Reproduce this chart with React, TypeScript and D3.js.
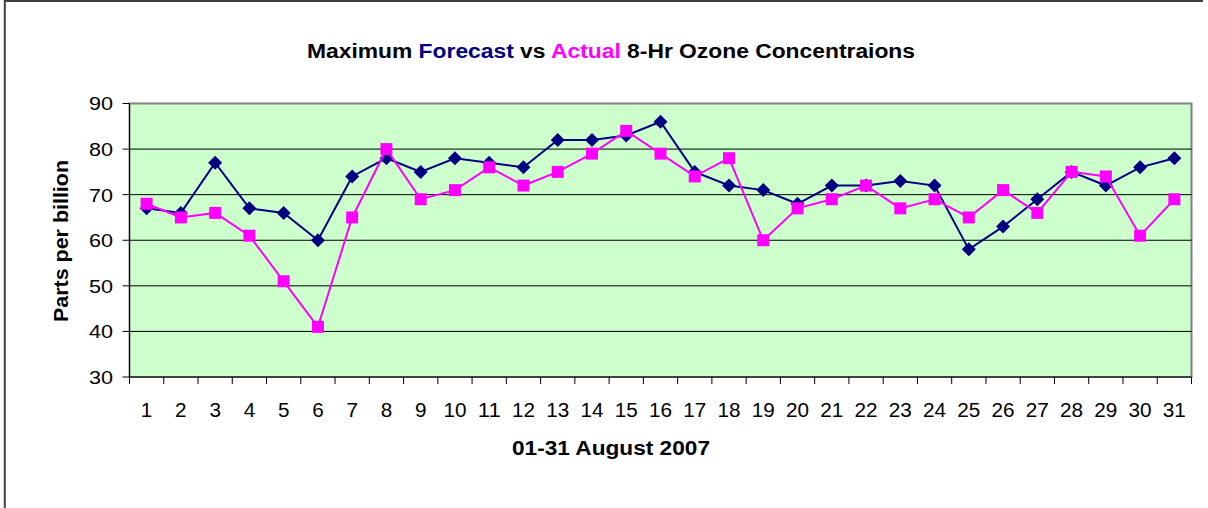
import React from 'react';
import * as d3 from 'd3';

const days = d3.range(1, 32).map(String);
const forecast = [67, 66, 77, 67, 66, 60, 74, 78, 75, 78, 77, 76, 82, 82, 83, 86, 75, 72, 71, 68, 72, 72, 73, 72, 58, 63, 69, 75, 72, 76, 78];
const actual = [68, 65, 66, 61, 51, 41, 65, 80, 69, 71, 76, 72, 75, 79, 84, 79, 74, 78, 60, 67, 69, 72, 67, 69, 65, 71, 66, 75, 74, 61, 69];
const yTicks = [30, 40, 50, 60, 70, 80, 90];

const W = 1208;
const H = 508;
const plot = { left: 129.5, right: 1191.5, top: 103.5, bottom: 377 };
const font = "'Liberation Sans', Arial, sans-serif";

const App: React.FC = () => {
  const x = d3.scaleBand().domain(days).range([plot.left, plot.right]);
  const y = d3.scaleLinear().domain([30, 90]).range([plot.bottom, plot.top]);
  const cx = (i: number) => (x(days[i]) || 0) + x.bandwidth() / 2;

  const line = d3.line<number>()
    .x((_, i) => cx(i))
    .y(d => y(d));

  const diamond = (px: number, py: number, r: number) =>
    `M${px},${py - r}L${px + r},${py}L${px},${py + r}L${px - r},${py}Z`;

  // ticks sit on the band boundaries
  const xTickPos = days.map(d => x(d) || 0).concat([plot.right]);

  return (
    <svg width={W} height={H} style={{ display: 'block', position: 'absolute', left: 0, top: 0 }}>
      <rect x={0} y={0} width={W} height={H} fill="#fff" />
      <line x1={4.8} x2={4.8} y1={0} y2={H} stroke="#404040" strokeWidth={2} />
      <line x1={4} x2={1203} y1={1} y2={1} stroke="#404040" strokeWidth={2} />

      <text x={611} y={57.5} textAnchor="middle" fontFamily={font} fontWeight="bold" fontSize={20}
        textLength={608} lengthAdjust="spacingAndGlyphs">
        Maximum <tspan fill="#000080">Forecast</tspan> vs <tspan fill="#ff00ff">Actual</tspan> 8-Hr Ozone Concentraions
      </text>

      <rect x={plot.left} y={plot.top} width={plot.right - plot.left} height={plot.bottom - plot.top}
        fill="#ccffcc" stroke="#808080" strokeWidth={2} />

      {yTicks.filter(t => t > 30 && t < 90).map(t => (
        <line key={t} x1={plot.left} x2={plot.right} y1={y(t)} y2={y(t)} stroke="#000" strokeWidth={1} />
      ))}

      {/* y axis */}
      <line x1={plot.left} x2={plot.left} y1={plot.top} y2={plot.bottom} stroke="#000" strokeWidth={1} />
      {yTicks.map(t => (
        <g key={t}>
          <line x1={plot.left - 7} x2={plot.left} y1={y(t)} y2={y(t)} stroke="#000" />
          <text x={113} y={y(t)} dy="0.36em" textAnchor="end" fontFamily={font} fontSize={19}
            textLength={24} lengthAdjust="spacingAndGlyphs">{t}</text>
        </g>
      ))}

      {/* x axis */}
      <line x1={plot.left} x2={plot.right} y1={plot.bottom} y2={plot.bottom} stroke="#000" strokeWidth={1} />
      {xTickPos.map((p, i) => (
        <line key={i} x1={p} x2={p} y1={plot.bottom} y2={plot.bottom + 7} stroke="#000" />
      ))}
      {days.map((d, i) => (
        <text key={d} x={cx(i)} y={410} dy="0.36em" textAnchor="middle" fontFamily={font} fontSize={20}
          textLength={d.length * 11.5} lengthAdjust="spacingAndGlyphs">{d}</text>
      ))}

      <text x={611} y={448} dy="0.36em" textAnchor="middle" fontFamily={font} fontWeight="bold" fontSize={20}
        textLength={198} lengthAdjust="spacingAndGlyphs">
        01-31 August 2007
      </text>
      <text transform="translate(61,241) rotate(-90)" dy="0.36em" textAnchor="middle" fontFamily={font}
        fontWeight="bold" fontSize={20} textLength={162} lengthAdjust="spacingAndGlyphs">
        Parts per billion
      </text>

      {/* series */}
      <path d={line(forecast) || ''} fill="none" stroke="#000080" strokeWidth={2} />
      {forecast.map((v, i) => (
        <path key={i} d={diamond(cx(i), y(v), 7)} fill="#000080" />
      ))}
      <path d={line(actual) || ''} fill="none" stroke="#ff00ff" strokeWidth={2} />
      {actual.map((v, i) => (
        <rect key={i} x={cx(i) - 6} y={y(v) - 6} width={12} height={12} fill="#ff00ff" />
      ))}
    </svg>
  );
};

export default App;
